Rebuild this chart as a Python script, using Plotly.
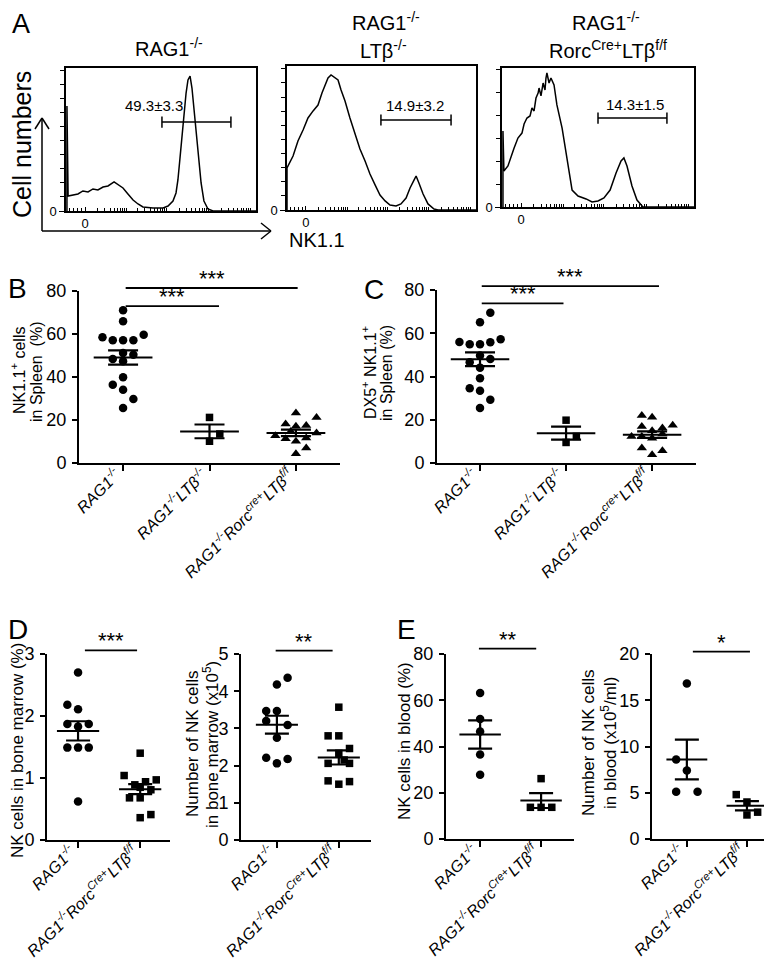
import math
import plotly.graph_objects as go

W, H = 772, 960
FONT = "Arial, 'Liberation Sans', Helvetica, sans-serif"

# ---------------- Panel A: NK1.1 histograms (x: channel 0-100, y: % of scale)
A1_x = [0.5, 0.5, 1.1, 6.3, 8.9, 11.6, 14.2, 16.8, 19.5, 22.1, 25.3, 27.4, 30.0, 32.6, 35.3, 37.9, 40.5,
        45.8, 51.1, 53.7, 56.3, 57.9, 58.9, 60.0, 61.6, 63.2, 64.2, 65.3, 66.3, 67.9, 69.5, 71.1, 72.6,
        74.7, 77.4, 100]
A1_y = [0, 73.4, 10.5, 11.9, 14.0, 13.3, 15.4, 14.7, 16.8, 17.5, 20.3, 18.2, 16.1, 11.9, 7.7, 4.9, 2.8,
        2.1, 2.1, 3.5, 7.0, 12.6, 21.7, 37.1, 61.5, 82.5, 91.6, 94.4, 86.0, 65.0, 40.6, 19.6, 7.0,
        1.4, 0, 0]
A2_x = [0, 0, 3.2, 5.8, 8.5, 11.1, 13.8, 16.4, 18.5, 20.1, 21.7, 23.3, 24.9, 27.0, 28.6, 30.7, 33.3,
        36.0, 38.6, 41.3, 43.9, 46.6, 49.2, 51.9, 54.5, 57.7, 60.3, 63.0, 65.1, 67.2, 68.3, 69.8, 72.0,
        74.6, 77.8, 79.9, 100]
A2_y = [0, 29.2, 37.5, 47.9, 55.6, 63.9, 68.8, 72.9, 81.3, 86.8, 91.7, 93.8, 92.4, 90.3, 83.3, 75.7, 63.9,
        52.1, 42.4, 34.0, 25.0, 17.4, 10.4, 6.3, 3.5, 2.8, 4.2, 8.3, 15.3, 20.8, 23.6, 18.8, 11.1,
        4.2, 0.7, 0, 0]
A3_x = [0.5, 0.5, 1.0, 3.1, 6.3, 8.3, 10.4, 11.5, 13.0, 14.6, 15.6, 16.7, 17.7, 18.8, 19.3, 20.3, 21.4,
        22.4, 22.9, 23.4, 24.5, 25.5, 27.1, 28.6, 31.3, 33.9, 36.5, 39.6, 43.8, 46.9, 50.0, 53.1, 56.3,
        59.4, 62.0, 63.5, 65.1, 67.7, 70.3, 73.4, 100]
A3_y = [0, 54.7, 25.9, 29.5, 42.4, 49.6, 53.2, 59.7, 64.0, 65.5, 71.2, 69.1, 78.4, 82.0, 85.6, 79.9, 89.2,
        84.2, 92.8, 96.4, 89.2, 92.8, 87.8, 73.4, 56.8, 35.3, 12.2, 7.9, 5.8, 3.6, 4.3, 6.5, 12.2,
        24.5, 33.1, 35.3, 29.5, 15.1, 5.0, 0, 0]
A_gate_x = [[50.5, 86.8], [49.7, 86.8], [50.0, 85.9]]
A_gate_y = [62.2, 62.5, 64.0]
A_gate_text = ["49.3±3.3", "14.9±3.2", "14.3±1.5"]
A_text_x = [46.3, 67.7, 69.3]
A_text_y = [74.0, 72.9, 74.1]

# ---------------- Panels B-E: scatter data
BC_labels = ["RAG1<sup>-/-</sup>", "RAG1<sup>-/-</sup>LTβ<sup>-/-</sup>",
             "RAG1<sup>-/-</sup>Rorc<sup>cre+</sup>LTβ<sup>f/f</sup>"]
DE_labels = ["RAG1<sup>-/-</sup>", "RAG1<sup>-/-</sup>Rorc<sup>Cre+</sup>LTβ<sup>f/f</sup>"]

B_rag = [71.0, 65.9, 58.5, 57.1, 57.1, 57.1, 59.7, 48.4, 51.2, 50.4, 47.3, 39.9, 36.4, 34.1, 29.8, 25.6]
B_rag_col = [0, 0, -2, -1, 0, 1, 2, -1, 0, 1, 0, 0, -1, 0, 1, 0]
B_ltb = [21.2, 13.5, 10.1]
B_ltb_col = [0, 1, 0]
B_rorc = [23.3, 21.2, 18.1, 17.1, 17.4, 12.7, 11.3, 10.1, 11.6, 14.0, 14.7, 7.0, 4.3]
B_rorc_col = [0, 2, -1, 0, 1, -2, -1, 0, 1, 2, -0.5, 1, 0]
B_mean = [49.1, 14.7, 14.0]
B_sem = [3.3, 3.2, 1.5]

C_rag = [69.5, 65.1, 56.0, 54.9, 54.9, 55.8, 57.2, 49.7, 46.6, 48.1, 44.1, 39.2, 34.6, 33.4, 29.2, 25.4]
C_rag_col = [1, 0, -2, -1, 0, 1, 2, 0, -1, 1, 0, 0, -1, 0, 1, 0]
C_ltb = [19.8, 12.3, 9.5]
C_ltb_col = [0, 1, 0]
C_rorc = [22.0, 21.1, 16.9, 16.2, 17.4, 14.9, 12.3, 12.3, 13.4, 6.9, 5.7, 3.8, 11.5]
C_rorc_col = [-1, 0, -1, 1, 2, 0, -2, -1, 1, -1, 1, 0, 0]
C_mean = [48.0, 13.8, 13.1]
C_sem = [3.2, 3.0, 1.5]

D1_rag = [2.70, 2.18, 2.11, 1.87, 1.87, 1.83, 1.49, 1.49, 1.49, 0.62]
D1_rag_col = [0, -1, 0, -1, 1, 0, -1, 0, 1, 0]
D1_rorc = [1.40, 1.04, 0.97, 0.94, 0.89, 0.85, 0.81, 0.68, 0.68, 0.41, 0.36]
D1_rorc_col = [0, -1.5, 1.5, 0.5, -0.5, 0, 1, -1, 0, 1, 0]
D1_mean = [1.76, 0.82]
D1_sem = [0.155, 0.08]

D2_rag = [4.36, 4.18, 3.47, 3.47, 3.20, 3.09, 2.75, 2.21, 2.06, 2.18]
D2_rag_col = [1, 0, -1, 0, -1, 1, 0, -1, 0, 1]
D2_rorc = [3.57, 2.80, 2.80, 2.46, 2.33, 2.15, 2.06, 2.06, 1.59, 1.50, 1.57]
D2_rorc_col = [0, -1, 0, 1, 0, 0.5, -1, 1, -1, 0, 1]
D2_mean = [3.10, 2.22]
D2_sem = [0.24, 0.19]

E1_rag = [63.1, 51.9, 46.5, 36.5, 27.8]
E1_rag_col = [0, 0, 0, 0, 0]
E1_rorc = [26.1, 13.7, 13.7, 13.7]
E1_rorc_col = [0, -1, 0, 1]
E1_mean = [45.2, 16.6]
E1_sem = [6.1, 3.2]

E2_rag = [16.8, 8.6, 7.4, 5.1, 5.1]
E2_rag_col = [0, -1, 0, -1, 1]
E2_rorc = [4.8, 4.0, 2.9, 2.6]
E2_rorc_col = [-1, 0, 1, 0]
E2_mean = [8.6, 3.6]
E2_sem = [2.15, 0.5]

B_sig = [(0.03, 1.11, 73.0, "***"), (0.03, 2.02, 81.4, "***")]
C_sig = [(0.02, 0.97, 73.8, "***"), (0.02, 2.08, 81.8, "***")]
D1_sig = [(0.11, 0.95, 3.06, "***")]
D2_sig = [(-0.02, 0.90, 5.09, "**")]
E1_sig = [(-0.02, 0.92, 82.3, "**")]
E2_sig = [(0.10, 1.05, 20.25, "*")]

# ---------------- layout geometry (pixels)
HIST = {1: (58, 248, 60, 203), 2: (279, 468, 58, 202), 3: (494, 686, 60, 199)}
PANELS = {
    4: dict(box=(71, 332, 283, 455), xr=[-0.51, 2.51], yr=[0, 80], yt=[0, 20, 40, 60, 80], colpx=10.3, cap=15),
    5: dict(box=(429, 688, 282, 455), xr=[-0.50, 2.51], yr=[0, 80], yt=[0, 20, 40, 60, 80], colpx=10.3, cap=15),
    6: dict(box=(39, 162, 646, 832), xr=[-0.50, 1.48], yr=[0, 3], yt=[0, 1, 2, 3], colpx=10.7, cap=12),
    7: dict(box=(233, 363, 646, 832), xr=[-0.58, 1.52], yr=[0, 5], yt=[0, 1, 2, 3, 4, 5], colpx=10.7, cap=12),
    8: dict(box=(438, 566, 646, 831), xr=[-0.56, 1.54], yr=[0, 80], yt=[0, 20, 40, 60, 80], colpx=10.7, cap=12),
    9: dict(box=(644, 769, 646, 831), xr=[-0.58, 1.50], yr=[0, 20], yt=[0, 5, 10, 15, 20], colpx=10.7, cap=12),
}

fig = go.Figure()
layout = dict(template="none", width=W, height=H, margin=dict(l=0, r=0, t=0, b=0, pad=0, autoexpand=False),
              autosize=False, paper_bgcolor="white", plot_bgcolor="white", showlegend=False,
              font=dict(family=FONT, color="black"))
shapes, annotations = [], []


def ax_key(kind, i):
    return kind + ("axis" if i == 1 else "axis%d" % i)


def ref(kind, i):
    return kind if i == 1 else "%s%d" % (kind, i)


def P(px, py):
    return px / W, 1 - py / H


# ---- histogram axes (only the "0" ticks carry labels; the rest are unlabeled minor ticks)
X_ZERO = 10
X_MARKS = [2, 4, 6, 8]
for base in (10, 31, 53, 75):
    for k in range(2, 11):
        X_MARKS.append(round(base + 22 * math.log10(k), 2))

hist_data = [(A1_x, A1_y), (A2_x, A2_y), (A3_x, A3_y)]
for i in (1, 2, 3):
    l, r, t, b = HIST[i]
    if i < 3:
        ymarks = [9.8, 19.6, 29.4, 39.2, 49.0, 58.8, 68.6, 78.4, 88.2, 98]
    else:
        ymarks = [16.5, 33, 49.5, 66, 82.5, 99]
    layout[ax_key("x", i)] = dict(
        domain=[l / W, r / W], range=[0, 100], anchor=ref("y", i), showline=True, mirror=True,
        linecolor="black", linewidth=1.5, ticks="inside", ticklen=4, tickwidth=1, tickcolor="black",
        tickvals=[X_ZERO], ticktext=["0"], automargin=False,
        tickfont=dict(size=13), showgrid=False, zeroline=False,
        minor=dict(tickvals=X_MARKS, ticks="inside", ticklen=3, tickwidth=1, tickcolor="black", showgrid=False))
    layout[ax_key("y", i)] = dict(
        domain=[1 - b / H, 1 - t / H], range=[0, 100], anchor=ref("x", i), showline=True, mirror=True,
        linecolor="black", linewidth=1.5, ticks="outside", ticklen=5, tickwidth=1, tickcolor="black",
        tickvals=[0], ticktext=["0"], tickfont=dict(size=13), automargin=False,
        showgrid=False, zeroline=False,
        minor=dict(tickvals=ymarks, ticks="outside", ticklen=4, tickwidth=1, tickcolor="black", showgrid=False))
    hx, hy = hist_data[i - 1]
    fig.add_trace(go.Scatter(x=hx, y=hy, mode="lines", line=dict(color="black", width=1.5),
                             xaxis=ref("x", i), yaxis=ref("y", i), hoverinfo="skip"))
    gx = A_gate_x[i - 1]
    gy = A_gate_y[i - 1]
    fig.add_trace(go.Scatter(x=gx, y=[gy, gy], mode="lines+markers", line=dict(color="black", width=1.5),
                             marker=dict(symbol="line-ns-open", size=8, line=dict(color="black", width=1.5)),
                             xaxis=ref("x", i), yaxis=ref("y", i), hoverinfo="skip"))
    annotations.append(dict(x=A_text_x[i - 1], y=A_text_y[i - 1], xref=ref("x", i), yref=ref("y", i),
                            text=A_gate_text[i - 1], showarrow=False, font=dict(size=15),
                            xanchor="center", yanchor="middle"))

# ---- scatter panels
panel_data = {
    4: ([B_rag, B_ltb, B_rorc], [B_rag_col, B_ltb_col, B_rorc_col], B_mean, B_sem, B_sig, BC_labels,
        ["circle", "square", "triangle-up"]),
    5: ([C_rag, C_ltb, C_rorc], [C_rag_col, C_ltb_col, C_rorc_col], C_mean, C_sem, C_sig, BC_labels,
        ["circle", "square", "triangle-up"]),
    6: ([D1_rag, D1_rorc], [D1_rag_col, D1_rorc_col], D1_mean, D1_sem, D1_sig, DE_labels, ["circle", "square"]),
    7: ([D2_rag, D2_rorc], [D2_rag_col, D2_rorc_col], D2_mean, D2_sem, D2_sig, DE_labels, ["circle", "square"]),
    8: ([E1_rag, E1_rorc], [E1_rag_col, E1_rorc_col], E1_mean, E1_sem, E1_sig, DE_labels, ["circle", "square"]),
    9: ([E2_rag, E2_rorc], [E2_rag_col, E2_rorc_col], E2_mean, E2_sem, E2_sig, DE_labels, ["circle", "square"]),
}
SIZES = {"circle": 8.5, "square": 7.5, "triangle-up": 9}

for i, spec in PANELS.items():
    l, r, t, b = spec["box"]
    xr, yr = spec["xr"], spec["yr"]
    groups, cols, means, sems, sigs, labels, syms = panel_data[i]
    unit = (r - l) / (xr[1] - xr[0])
    layout[ax_key("x", i)] = dict(
        domain=[l / W, r / W], range=xr, anchor=ref("y", i), showline=True, linecolor="black", linewidth=2,
        ticks="outside", ticklen=6, tickwidth=2, tickcolor="black", automargin=False,
        tickvals=list(range(len(labels))), ticktext=labels, tickangle=-45,
        ticklabelstandoff=-12, ticklabelshift=-7,
        tickfont=dict(size=16, style="italic"), showgrid=False, zeroline=False)
    layout[ax_key("y", i)] = dict(
        domain=[1 - b / H, 1 - t / H], range=yr, anchor=ref("x", i), showline=True, linecolor="black",
        linewidth=2, ticks="outside", ticklen=5, tickwidth=2, tickcolor="black", tickvals=spec["yt"],
        tickfont=dict(size=18), showgrid=False, zeroline=False, ticklabelstandoff=2, automargin=False)
    for g, (vals, cc) in enumerate(zip(groups, cols)):
        xs = [g + c * spec["colpx"] / unit for c in cc]
        fig.add_trace(go.Scatter(x=xs, y=vals, mode="markers", cliponaxis=False,
                                 marker=dict(symbol=syms[g], size=SIZES[syms[g]], color="black"),
                                 xaxis=ref("x", i), yaxis=ref("y", i), hoverinfo="skip"))
        fig.add_trace(go.Scatter(x=[g - 0.34, g + 0.34], y=[means[g], means[g]], mode="lines",
                                 line=dict(color="black", width=2), xaxis=ref("x", i), yaxis=ref("y", i),
                                 hoverinfo="skip"))
        fig.add_trace(go.Scatter(x=[g], y=[means[g]], mode="markers", marker=dict(size=1, opacity=0),
                                 error_y=dict(type="data", array=[sems[g]], width=spec["cap"], thickness=2.2,
                                              color="black"),
                                 xaxis=ref("x", i), yaxis=ref("y", i), hoverinfo="skip"))
    for (x0, x1, lev, stars) in sigs:
        px0 = l + (x0 - xr[0]) * unit
        px1 = l + (x1 - xr[0]) * unit
        py = b - (lev - yr[0]) / (yr[1] - yr[0]) * (b - t)
        shapes.append(dict(type="line", xref="paper", yref="paper", x0=px0 / W, x1=px1 / W,
                           y0=1 - py / H, y1=1 - py / H, line=dict(color="black", width=1.8)))
        annotations.append(dict(x=(px0 + px1) / 2 / W, y=1 - py / H, xref="paper", yref="paper", text=stars,
                                showarrow=False, font=dict(size=22), xanchor="center", yanchor="bottom",
                                yshift=-5))

# ---- Cell numbers / NK1.1 arrows
shapes += [
    dict(type="line", xref="paper", yref="paper", x0=P(34, 223)[0], y0=P(34, 223)[1], x1=P(34, 110)[0],
         y1=P(34, 110)[1], line=dict(color="black", width=1.5)),
    dict(type="line", xref="paper", yref="paper", x0=P(34, 223)[0], y0=P(34, 223)[1], x1=P(263, 223)[0],
         y1=P(263, 223)[1], line=dict(color="black", width=1.5)),
]
for (a, tip, c) in [((27, 121), (34, 110), (41, 121)), ((253, 215), (263, 223), (253, 231))]:
    for p in (a, c):
        shapes.append(dict(type="line", xref="paper", yref="paper", x0=P(*p)[0], y0=P(*p)[1],
                           x1=P(*tip)[0], y1=P(*tip)[1], line=dict(color="black", width=1.5)))


def txt(x, y, s, size, angle=0, xanchor="center", yanchor="middle"):
    annotations.append(dict(x=x / W, y=1 - y / H, xref="paper", yref="paper", text=s, showarrow=False,
                            font=dict(size=size), textangle=angle, xanchor=xanchor, yanchor=yanchor,
                            borderpad=0))


txt(14, 137, "Cell numbers", 25, -90)
txt(309, 232, "NK1.1", 20)
# panel A titles
txt(161, 40, "RAG1<sup>-/-</sup>", 20)
txt(378, 13, "RAG1<sup>-/-</sup>", 20)
txt(375, 41, "LTβ<sup>-/-</sup>", 20)
txt(598, 14, "RAG1<sup>-/-</sup>", 20)
txt(600, 42, "Rorc<sup>Cre+</sup>LTβ<sup>f/f</sup>", 20)
# panel letters
txt(13, 0, "A", 27, yanchor="top")
txt(9, 280, "B", 28)
txt(366, 281, "C", 28)
txt(10, 621, "D", 28)
txt(398, 621, "E", 28)
# y titles
txt(10, 363, "NK1.1<sup>+</sup> cells", 16, -90)
txt(28, 363, "in Spleen  (%)", 16, -90)
txt(361, 365, "DX5<sup>+</sup> NK1.1<sup>+</sup>", 16, -90)
txt(379, 365, "in Spleen (%)", 16, -90)
txt(9, 743, "NK cells in bone marrow (%)", 17, -90)
txt(184, 736, "Number of NK cells", 17, -90)
txt(203, 737, "in bone marrow (x10<sup>5</sup>)", 17, -90)
txt(396, 733, "NK cells in blood (%)", 17, -90)
txt(580, 735, "Number of NK cells", 17, -90)
txt(601, 735, "in blood (x10<sup>5</sup>/ml)", 17, -90)

layout["shapes"] = shapes
layout["annotations"] = annotations
fig.update_layout(**layout)
fig.write_html("out.html")
